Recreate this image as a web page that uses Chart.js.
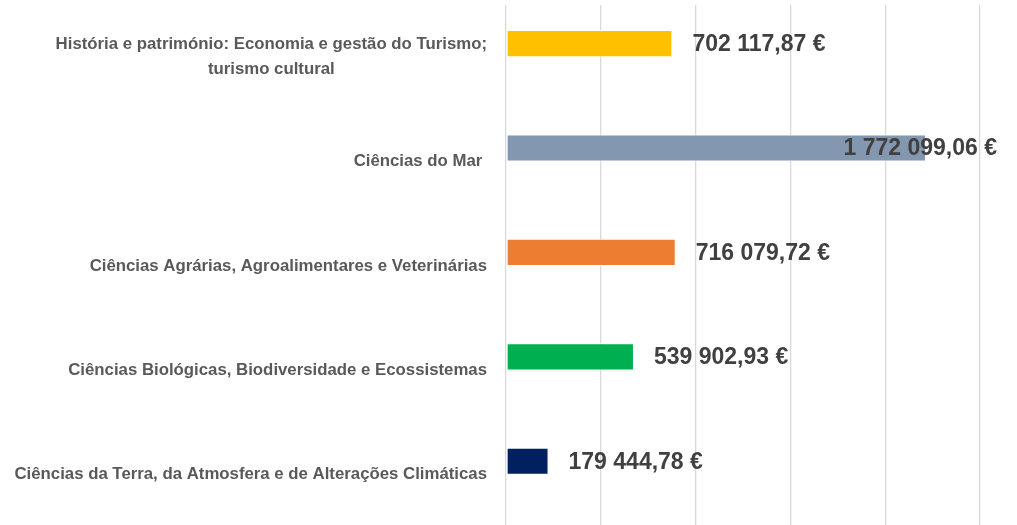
<!DOCTYPE html>
<html>
<head>
<meta charset="utf-8">
<script src="https://cdn.jsdelivr.net/npm/chart.js@4/dist/chart.umd.min.js"></script>
<style>
  html, body { margin: 0; padding: 0; background: #fff; overflow: hidden; }
</style>
</head>
<body>
<canvas id="fundingChart" width="1017" height="527"></canvas>
<script>
'use strict';
var areaLabels = [
  ['História e património: Economia e gestão do Turismo;', 'turismo cultural'],
  ['Ciências do Mar '],
  ['Ciências Agrárias, Agroalimentares e Veterinárias'],
  ['Ciências Biológicas, Biodiversidade e Ecossistemas'],
  ['Ciências da Terra, da Atmosfera e de Alterações Climáticas']
];
var fundingValues = [702117.87, 1772099.06, 716079.72, 539902.93, 179444.78];
var emptyValues = [null, null, null, null, null];
var barColors = ['#FFC000', '#8497B0', '#ED7D31', '#00B050', '#002060'];
var axisMax = 2000000;
var axisStep = 400000;

// euro format like 1 772 099,06 €
function formatEuro(value){
  var parts = value.toFixed(2).split('.');
  var intPart = parts[0].replace(/\B(?=(\d{3})+(?!\d))/g, ' ');
  return intPart + ',' + parts[1] + ' €';
}

var categoryLabelsPlugin = {
  id: 'categoryLabels',
  afterDraw: function(chart){
    var ctx = chart.ctx;
    var yScale = chart.scales.y;
    var rightEdge = chart.chartArea.left - 19;
    var lineHeight = 25;
    ctx.save();
    ctx.font = 'bold 16.8px "Liberation Sans", Arial, sans-serif';
    ctx.fillStyle = '#595959';
    ctx.textAlign = 'center';
    ctx.textBaseline = 'middle';
    for (var i = 0; i < areaLabels.length; i++){
      var lines = areaLabels[i];
      var maxW = 0;
      for (var j = 0; j < lines.length; j++){
        maxW = Math.max(maxW, ctx.measureText(lines[j]).width);
      }
      var cx = rightEdge - maxW / 2;
      var cy = yScale.getPixelForValue(i);
      var startY = cy - (lines.length - 1) * lineHeight / 2;
      for (j = 0; j < lines.length; j++){
        ctx.fillText(lines[j], cx, startY + j * lineHeight);
      }
    }
    ctx.restore();
  }
};

var valueLabelsPlugin = {
  id: 'valueLabels',
  afterDatasetsDraw: function(chart){
    var ctx = chart.ctx;
    var meta = chart.getDatasetMeta(0);
    ctx.save();
    ctx.font = 'bold 23px "Liberation Sans", Arial, sans-serif';
    ctx.fillStyle = '#404040';
    ctx.textAlign = 'left';
    ctx.textBaseline = 'middle';
    meta.data.forEach(function(bar, i){
      var text = formatEuro(fundingValues[i]);
      var w = ctx.measureText(text).width;
      var x = bar.x + 20;
      if (x + w > chart.width - 20){
        x = chart.width - 20 - w;
      }
      ctx.fillText(text, x, bar.y + 1);
    });
    ctx.restore();
  }
};

var ctx = document.getElementById('fundingChart').getContext('2d');
var chart = new Chart(ctx, {
  type: 'bar',
  data: {
    labels: areaLabels.map(function(l){ return l.join(' '); }),
    datasets: [{
      label: 'Financiamento',
      data: fundingValues,
      backgroundColor: barColors,
      borderColor: '#ffffff',
      borderWidth: 1,
      borderSkipped: false
    }, {
      label: '',
      data: emptyValues
    }]
  },
  options: {
    indexAxis: 'y',
    responsive: false,
    animation: false,
    categoryPercentage: 0.52,
    barPercentage: 1,
    layout: { padding: { top: 5, right: 37, bottom: 0, left: 0 } },
    plugins: {
      legend: { display: false },
      tooltip: { enabled: false }
    },
    scales: {
      x: {
        min: 0,
        max: axisMax,
        ticks: { display: false, stepSize: axisStep },
        grid: { color: '#D9D9D9', lineWidth: 1.3, drawTicks: false },
        border: { display: false },
        afterFit: function(scale){ scale.height = 0; }
      },
      y: {
        ticks: { display: false },
        grid: { display: false, drawTicks: false },
        border: { display: false },
        afterFit: function(scale){ scale.width = 506; }
      }
    }
  },
  plugins: [categoryLabelsPlugin, valueLabelsPlugin]
});
</script>
</body>
</html>
